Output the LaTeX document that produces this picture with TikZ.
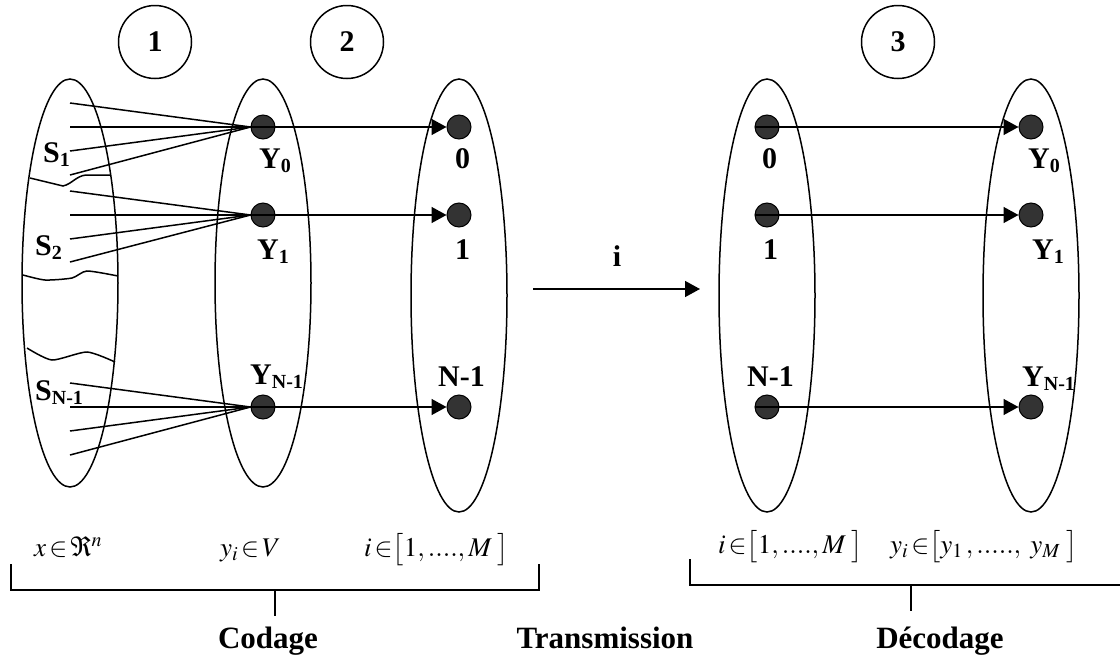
\documentclass[tikz,border=0pt]{standalone}
\usepackage{mathptmx}
\usepackage{fontspec}
\setmainfont{Liberation Serif}
\usetikzlibrary{arrows.meta,positioning,shapes.geometric}
\definecolor{dotgray}{RGB}{51,51,51}
\newcommand{\lowsub}[1]{\raisebox{-4pt}{\fontsize{20}{20}\selectfont #1}}
\tikzset{
  setell/.style={draw,ellipse,line width=1.5pt,minimum width=96pt,inner sep=0pt},
  dot/.style={circle,draw,fill=dotgray,minimum size=24pt,inner sep=0pt,line width=1pt},
  numc/.style={circle,draw,line width=1.5pt,minimum size=73pt,inner sep=0pt,
               font=\fontsize{30}{36}\selectfont\bfseries},
  lbl/.style={anchor=base west,inner sep=0pt,font=\fontsize{30}{36}\selectfont\bfseries},
  mlbl/.style={anchor=base west,inner sep=0pt,font=\fontsize{27}{30}\selectfont},
  ttl/.style={anchor=base,inner sep=0pt,font=\fontsize{31}{36}\selectfont\bfseries},
  arr/.style={-{Triangle[length=15pt,width=16pt]},line width=1.5pt},
  fan/.style={line width=1.5pt},
}

\begin{document}
\begin{tikzpicture}[x=1pt,y=-1pt]
  \useasboundingbox (0,0) rectangle (1120,659);

  % Step numbers
  \node[numc] (N1) at (155,42) {1};
  \node[numc] (N2) at (347,42) {2};
  \node[numc] (N3) at (898,42) {3};

  % Sets
  \node[setell,minimum height=408pt] (E1) at (70,283)    {};
  \node[setell,minimum height=408pt] (E2) at (263,283)   {};
  \node[setell,minimum height=433pt] (E3) at (459,295.5) {};
  \node[setell,minimum height=433pt] (E4) at (767,295.5) {};
  \node[setell,minimum height=433pt] (E5) at (1031,295.5){};

  % Region borders in E1
  \draw[fan] (30,178) -- (63,186) .. controls (72,184) and (76,176) .. (86,175) -- (110,175);
  \draw[fan] plot[smooth,tension=0.4] coordinates {(23,275) (45,280) (72,278) (87,271) (118,276)};
  \draw[fan] plot[smooth,tension=0.4] coordinates {(27,348) (52,360) (87,352) (115,362)};

  % Dots
  \node[dot] (Y0) at (263,127) {};
  \node[dot] (Y1) at (263,215) {};
  \node[dot] (YN) at (263,407) {};
  \node[dot] (C0) at (459,127) {};
  \node[dot] (C1) at (459,215) {};
  \node[dot] (CN) at (459,407) {};
  \node[dot] (D0) at (767,127) {};
  \node[dot] (D1) at (767,215) {};
  \node[dot] (DN) at (767,407) {};
  \node[dot] (Z0) at (1031,127) {};
  \node[dot] (Z1) at (1031,215) {};
  \node[dot] (ZN) at (1031,407) {};

  % Fans into the code words
  \foreach \y [count=\k] in {103,127,151,175}
    \draw[fan] (70,\y) coordinate (fa\k) -- (Y0.west);
  \foreach \y [count=\k] in {191,215,239,262}
    \draw[fan] (70,\y) coordinate (fb\k) -- (Y1.west);
  \foreach \y [count=\k] in {383,407,431,455}
    \draw[fan] (70,\y) coordinate (fc\k) -- (YN.west);

  % Arrows
  \draw[arr] (Y0.west) -- (C0.west);
  \draw[arr] (Y1.west) -- (C1.west);
  \draw[arr] (YN.west) -- (CN.west);
  \draw[arr] (D0.west) -- (Z0.west);
  \draw[arr] (D1.west) -- (Z1.west);
  \draw[arr] (DN.west) -- (ZN.west);
  \coordinate (TXa) at (533,289);
  \coordinate (TXb) at (700,289);
  \draw[arr] (TXa) -- (TXb);
  \node[lbl,anchor=base] (I) at (617,266) {i};

  % Labels
  \node[lbl] (LS1) at (43,162)  {S\lowsub{1}};
  \node[lbl] (LS2) at (35,255)  {S\lowsub{2}};
  \node[lbl] (LSN) at (35,400)  {S\lowsub{N-1}};
  \node[lbl] (LY0) at (259,168) {Y\lowsub{0}};
  \node[lbl] (LY1) at (257,259) {Y\lowsub{1}};
  \node[lbl] (LYN) at (250,384) {Y\lowsub{N-1}};
  \node[lbl] (LC0) at (455,168) {0};
  \node[lbl] (LC1) at (455,259) {1};
  \node[lbl] (LCN) at (438,386) {N-1};
  \node[lbl] (LD0) at (762,168) {0};
  \node[lbl] (LD1) at (763,259) {1};
  \node[lbl] (LDN) at (747,386) {N-1};
  \node[lbl] (LZ0) at (1028,168) {Y\lowsub{0}};
  \node[lbl] (LZ1) at (1032,259) {Y\lowsub{1}};
  \node[lbl] (LZN) at (1022,386) {Y\lowsub{N-1}};

  % Spaces
  \node[mlbl] (MX)  at (34,556)  {$x\,{\in}\,\Re^n$};
  \node[mlbl] (MY)  at (220,556) {$y_i\,{\in}\, V$};
  \node[mlbl] (MI)  at (364,556) {$i\,{\in}\bigl[1,....,M\;\bigr]$};
  \node[mlbl] (MI2) at (718,553) {$i\,{\in}\bigl[1,....,M\;\bigr]$};
  \node[mlbl] (MY2) at (890,553) {$y_i\,{\in}\bigl[y_1\,,.....,\;y_M\;\bigr]$};

  % Brackets
  \draw[fan] (11,564) -- (11,590) -- (539,590) -- (539,564);
  \draw[fan] (275,590) -- (275,616);
  \draw[fan] (690,559) -- (690,585) -- (1120,585);
  \draw[fan] (911,585) -- (911,611);

  \node[ttl] (COD) at (268,648) {Codage};
  \node[ttl] (TRA) at (605,648) {Transmission};
  \node[ttl] (DEC) at (940,648) {Décodage};
\end{tikzpicture}
\end{document}
